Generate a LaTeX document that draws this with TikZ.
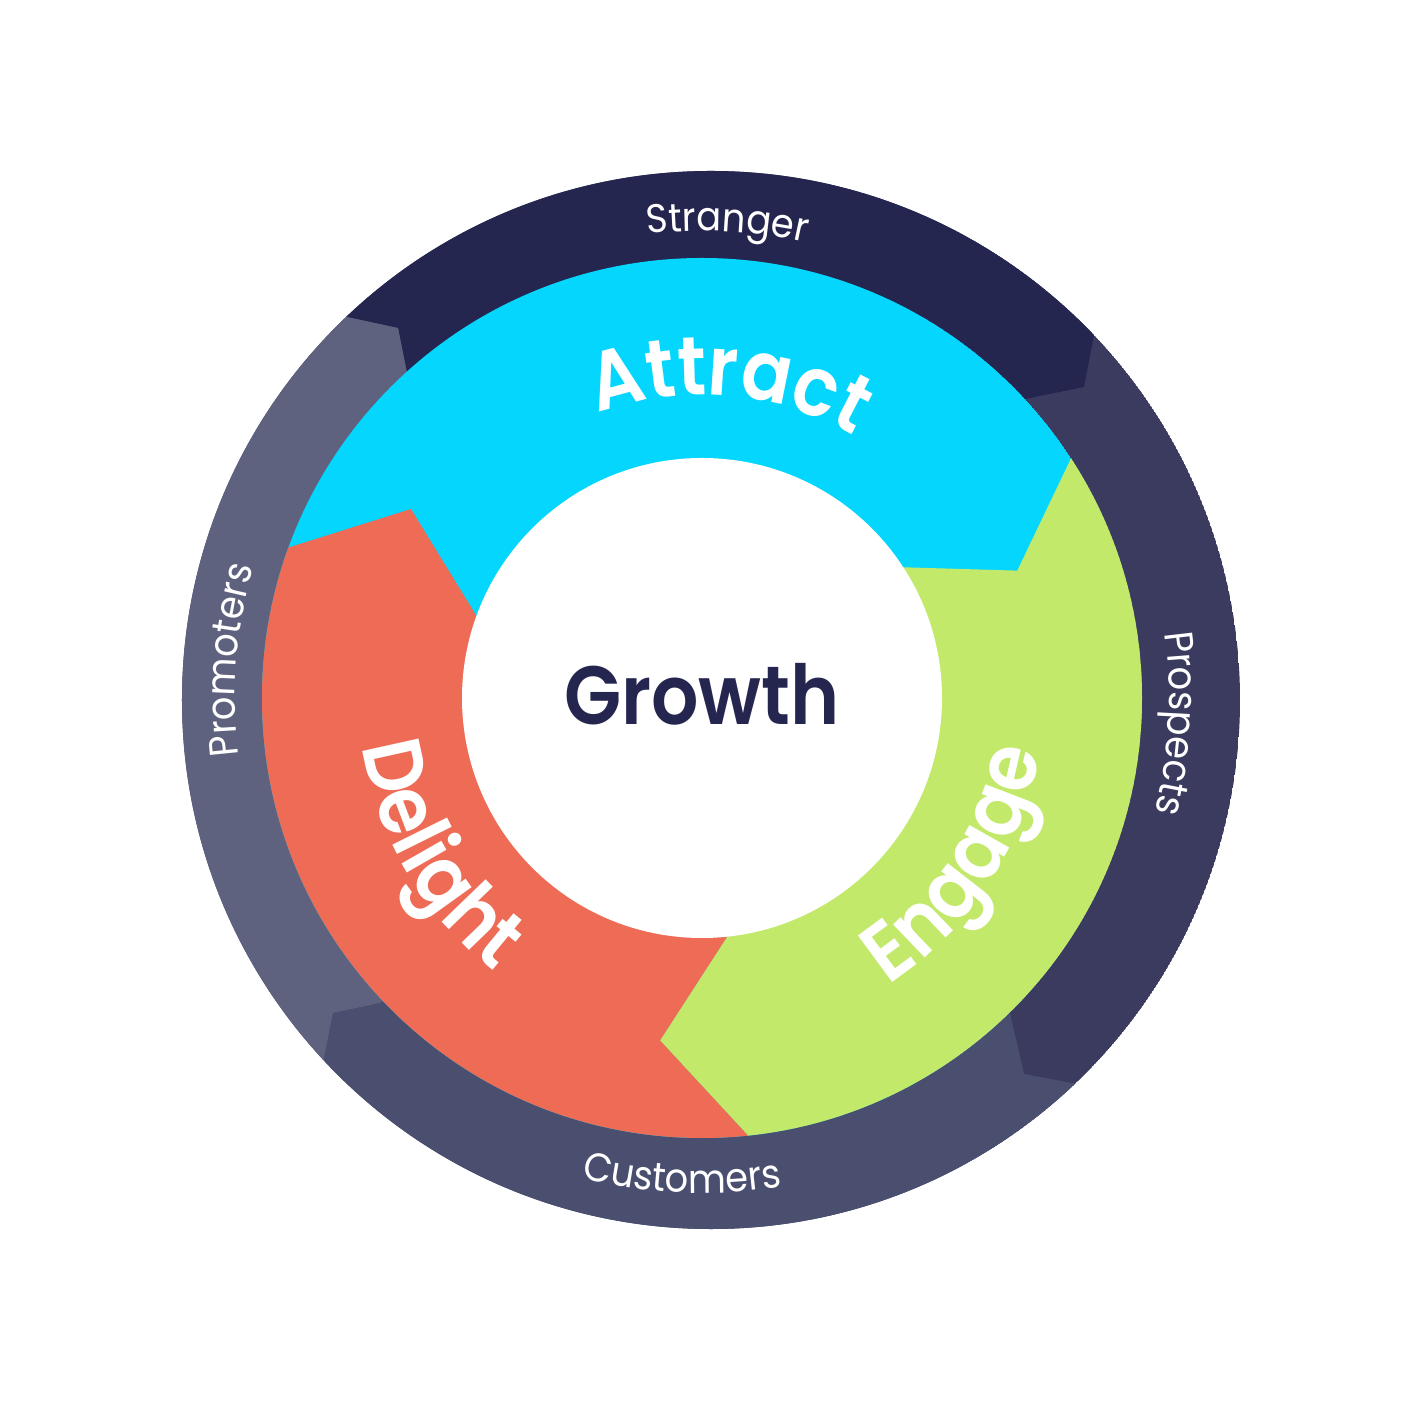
\documentclass[tikz,border=0pt]{standalone}
\usepackage{fontspec}
\setmainfont{Poppins}
\newfontfamily\popsb{Poppins SemiBold}[FakeStretch=0.9]
\newfontfamily\popsr{Poppins}[FakeStretch=0.92]
\usetikzlibrary{decorations.text,calc}
\definecolor{strangerC}{RGB}{37,38,80}
\definecolor{prospectsC}{RGB}{58,59,95}
\definecolor{customersC}{RGB}{74,79,111}
\definecolor{promotersC}{RGB}{94,98,126}
\definecolor{cyanC}{RGB}{4,214,253}
\definecolor{greenC}{RGB}{194,233,106}
\definecolor{redC}{RGB}{238,107,85}
\definecolor{growthC}{RGB}{37,38,80}
\newcommand\bigtxt{\popsb\fontsize{23.5}{28}\selectfont}
\newcommand\smalltxt{\popsr\fontsize{11.4}{14}\selectfont}
\tikzset{
  biglabel/.style={decorate, decoration={text along path, text align=center, text color=white, text={|\bigtxt|#1}}},
  smalllabel/.style={decorate, decoration={text along path, text align=center, text color=white, text={|\smalltxt|#1}}}
}
\begin{document}
\begin{tikzpicture}[x=0.01cm,y=0.01cm]
\useasboundingbox (-702,-703) rectangle (699,698);
\fill[white] (-702,-703) rectangle (699,698);
% outer ring
\begin{scope}
  \clip (9,-2) circle (529);
  \fill[prospectsC] (9,-2) circle (529);
  \fill[strangerC] (0,0) -- (-295,325) -- (-304,370) -- ($(-304,370)!1.6!(-355,381)$) -- (-450,700) -- (450,700) -- ($(382,311)!1.6!(392,363)$) -- (382,311) -- (323,299) -- cycle;
  \fill[customersC] (0,0) -- (308,-315) -- (322,-376) -- ($(322,-376)!1.6!(375,-386)$) -- (450,-700) -- (-450,-700) -- ($(-369,-315)!1.6!(-379,-365)$) -- (-369,-315) -- (-322,-305) -- cycle;
  \fill[promotersC] (0,0) -- (-322,-305) -- (-369,-315) -- ($(-369,-315)!1.6!(-379,-365)$) -- (-750,-450) -- (-750,450) -- ($(-304,370)!1.6!(-355,381)$) -- (-304,370) -- (-295,325) -- cycle;
\end{scope}
% middle ring
\begin{scope}
  \clip (0,0) circle (440);
  \fill[cyanC] (0,0) circle (440);
  \fill[greenC] (0,0) -- (33:240) -- (22:340) -- ($(22:340)!1.5!(33:440)$) -- (600,300) -- (600,-600) -- ($(-97:345)!1.5!(-84:440)$) -- (-97:345) -- (-84:240) -- cycle;
  \fill[redC] (0,0) -- (-84:240) -- (-97:345) -- ($(-97:345)!1.5!(-84:440)$) -- (-600,-600) -- (-600,150) -- ($(147:347)!1.5!(160:440)$) -- (147:347) -- (160:240) -- cycle;
\end{scope}
\fill[white] (0,0) circle (240);
% center label
\node[text=growthC, font=\bigtxt, anchor=base, inner sep=0pt] (growth) at (0,-27) {Growth};
% big labels
\path[biglabel=Attract] (130:303) arc[start angle=130, end angle=40, radius=303];
\path[biglabel=Engage] (-78:342) arc[start angle=-78, end angle=12, radius=342];
\path[biglabel=Delight] (165.5:343) arc[start angle=165.5, end angle=255.5, radius=343];
% small labels
\path[smalllabel=Stranger] (131.9:467) arc[start angle=131.9, end angle=41.9, radius=467];
\path[smalllabel=Prospects] (41.9:467) arc[start angle=41.9, end angle=-48.1, radius=467];
\path[smalllabel=Customers] (-137.4:495) arc[start angle=-137.4, end angle=-47.4, radius=495];
\path[smalllabel=Promoters] (220.4:467) arc[start angle=220.4, end angle=130.4, radius=467];
\end{tikzpicture}
\end{document}
